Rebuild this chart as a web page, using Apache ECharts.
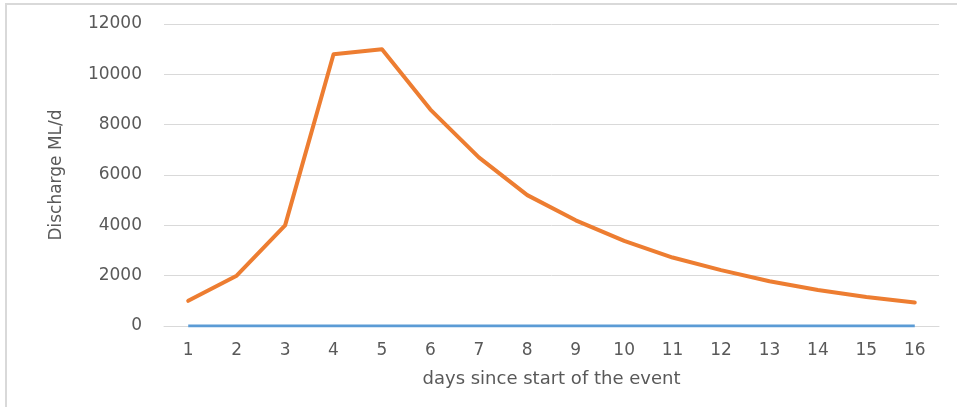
<!DOCTYPE html>
<html>
<head>
<meta charset="utf-8">
<script src="https://cdn.jsdelivr.net/npm/echarts@6/dist/echarts.min.js"></script>
<style>
  html, body { margin: 0; padding: 0; background: #fff; }
  #chart { width: 957px; height: 407px; }
</style>
</head>
<body>
<div id="chart"></div>
<script>
  // days since start of the event
  const days = ["1", "2", "3", "4", "5", "6", "7", "8", "9", "10", "11", "12", "13", "14", "15", "16"];
  // orange series (discharge ML/d)
  const dischargeMain = [1000, 2000, 4000, 10800, 11000, 8600, 6700, 5200, 4200, 3380, 2720, 2220, 1780, 1430, 1150, 930];
  // blue series, flat on zero
  const dischargeBase = [0, 0, 0, 0, 0, 0, 0, 0, 0, 0, 0, 0, 0, 0, 0, 0];

  const font = "DejaVu Sans";
  const grey = "#595959";

  const chart = echarts.init(document.getElementById("chart"));
  chart.setOption({
    animation: false,
    graphic: [
      {
        type: "rect",
        shape: { x: 6, y: 4, width: 960, height: 420 },
        style: { fill: "none", stroke: "#d9d9d9", lineWidth: 2 },
        silent: true
      }
    ],
    grid: { left: 164, right: 18, top: 24, bottom: 81, containLabel: false },
    xAxis: {
      type: "category",
      data: days,
      boundaryGap: true,
      name: "days since start of the event",
      nameLocation: "middle",
      nameGap: 44,
      nameTextStyle: { color: grey, fontSize: 18, fontFamily: font },
      axisLine: { show: true, lineStyle: { color: "#d9d9d9", width: 1 } },
      axisTick: { show: false },
      axisLabel: { color: grey, fontSize: 17, fontFamily: font, margin: 16 }
    },
    yAxis: {
      type: "value",
      min: 0,
      max: 12000,
      interval: 2000,
      name: "Discharge ML/d",
      nameLocation: "middle",
      nameGap: 99,
      nameTextStyle: { color: grey, fontSize: 17, fontFamily: font },
      axisLine: { show: false },
      axisTick: { show: false },
      axisLabel: {
        color: grey,
        fontSize: 17,
        fontFamily: font,
        margin: 22,
        formatter: (v) => String(v)
      },
      splitLine: { lineStyle: { color: "#d9d9d9", width: 1 } }
    },
    series: [
      {
        name: "base",
        type: "line",
        data: dischargeBase,
        symbol: "none",
        lineStyle: { color: "#5b9bd5", width: 3 },
        z: 3
      },
      {
        name: "discharge",
        type: "line",
        data: dischargeMain,
        symbol: "none",
        lineStyle: { color: "#ed7d31", width: 4, join: "round", cap: "round" },
        z: 4
      }
    ]
  });
</script>
</body>
</html>
